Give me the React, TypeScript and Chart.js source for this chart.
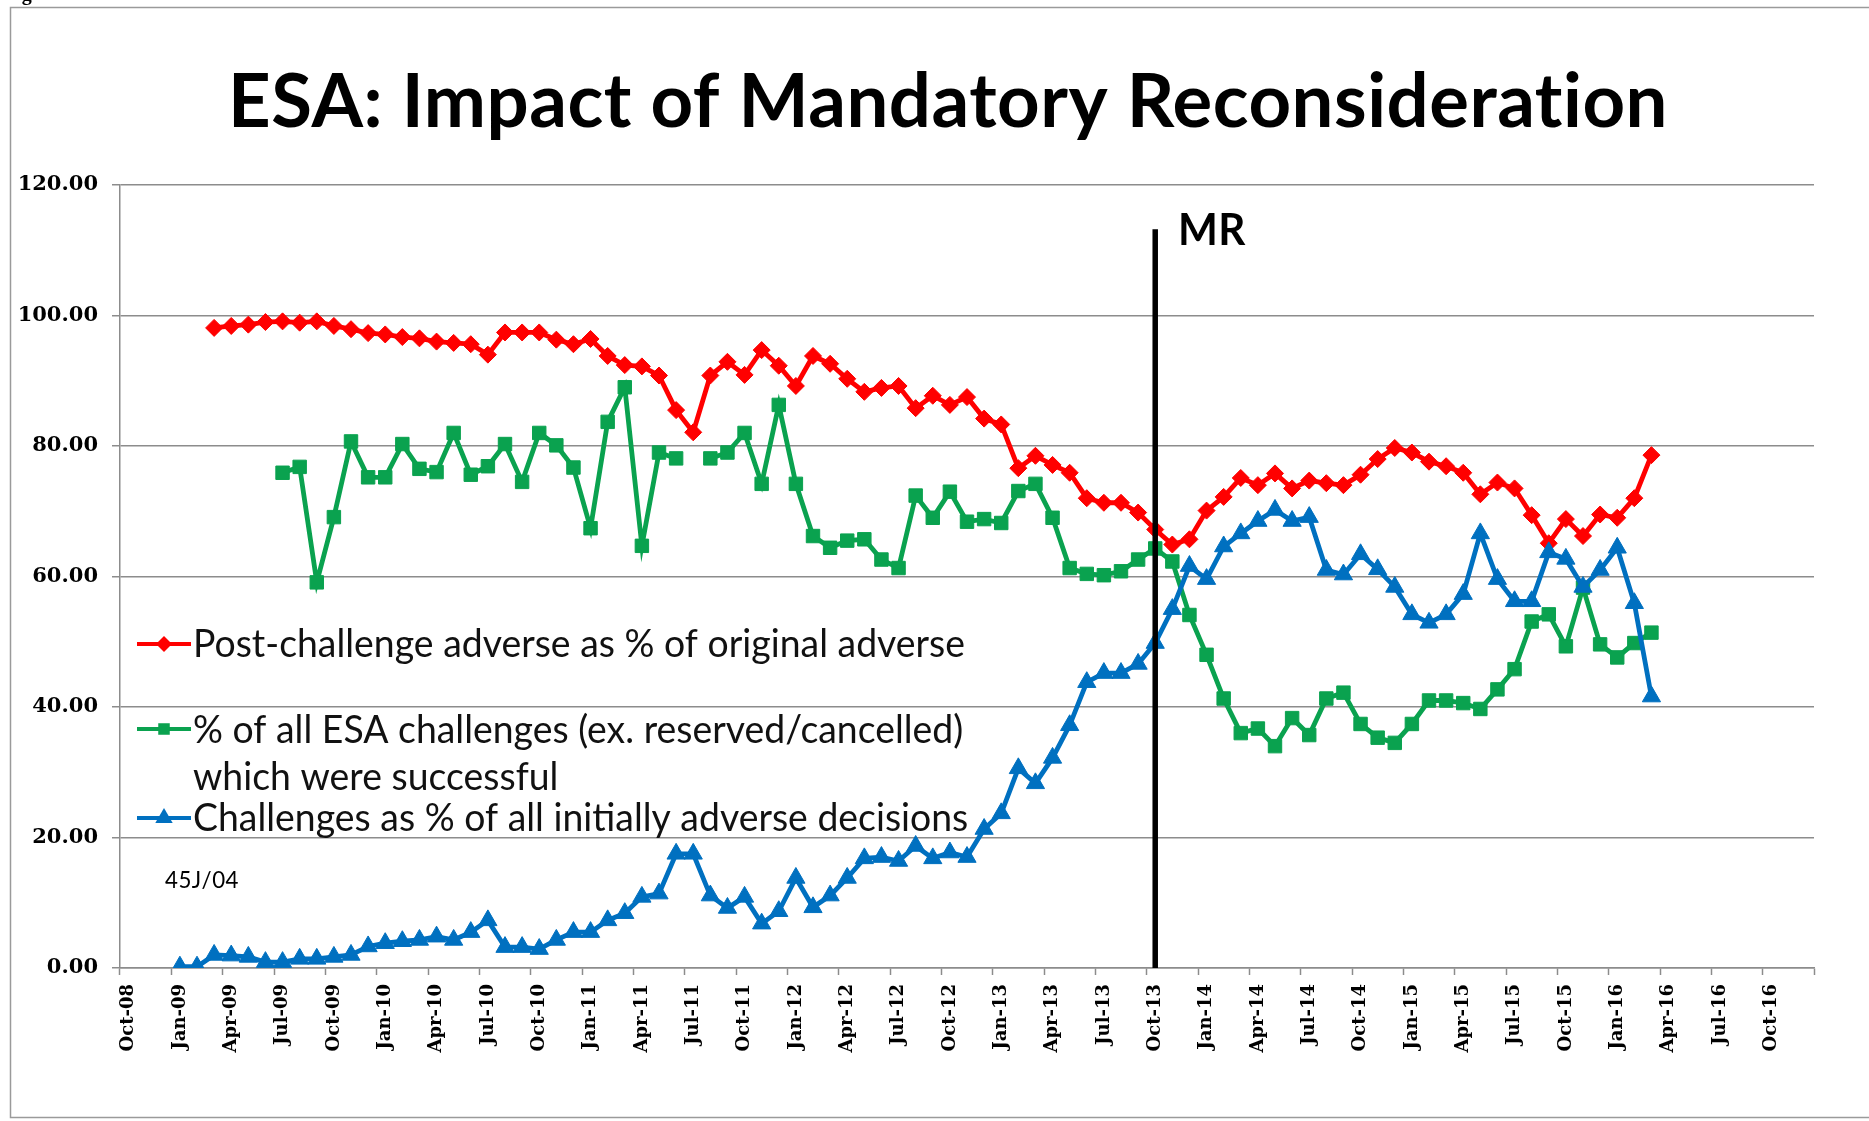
import React, { useEffect, useRef } from "react";
import { Chart, registerables } from "chart.js";

Chart.register(...registerables);

// ---- categories (monthly, Oct-08 .. Dec-16) ----
const MONTH_NAMES = ["Jan", "Feb", "Mar", "Apr", "May", "Jun", "Jul", "Aug", "Sep", "Oct", "Nov", "Dec"];
const FIRST_YEAR = 2008;
const FIRST_MONTH = 9; // Oct
const MONTH_COUNT = 99;
const CATEGORIES: string[] = [];
for (let i = 0; i < MONTH_COUNT; i++) {
  const m = (FIRST_MONTH + i) % 12;
  const y = FIRST_YEAR + Math.floor((FIRST_MONTH + i) / 12);
  CATEGORIES.push(MONTH_NAMES[m] + "-" + String(y % 100).padStart(2, "0"));
}

const Y_MIN = 0;
const Y_MAX = 120;
const Y_STEP = 20;

// ---- series ----
const SERIES_NAMES = [
  "Post-challenge adverse as % of original adverse",
  "% of all ESA challenges (ex. reserved/cancelled) which were successful",
  "Challenges as % of all initially adverse decisions",
];

// Post-challenge adverse (starts Mar-09)
const RED_START = 5;
const RED_VALUES = [
  98.1, 98.4, 98.6, 99.0, 99.1, 98.9, 99.1, 98.4, 97.9, 97.3, 97.1, 96.7,
  96.5, 96.0, 95.8, 95.6, 94.0, 97.4, 97.4, 97.4, 96.3, 95.6, 96.4, 93.8,
  92.4, 92.2, 90.8, 85.5, 82.1, 90.8, 92.9, 90.9, 94.7, 92.3, 89.2, 93.8,
  92.6, 90.3, 88.3, 88.9, 89.2, 85.8, 87.7, 86.3, 87.5, 84.2, 83.3, 76.6,
  78.5, 77.1, 75.9, 72.0, 71.3, 71.3, 69.8, 67.2, 64.9, 65.7, 70.1, 72.2,
  75.1, 74.0, 75.8, 73.5, 74.7, 74.3, 74.0, 75.6, 78.0, 79.7, 79.0, 77.6,
  76.9, 75.9, 72.6, 74.4, 73.5, 69.4, 65.1, 68.8, 66.2, 69.5, 69.0, 72.0,
  78.6,
];

// % successful (starts Jul-09)
const GREEN_START = 9;
const GREEN_VALUES: (number | null)[] = [
  75.9, 76.8, 59.1, 69.1, 80.7, 75.2, 75.2, 80.3, 76.5, 76.0, 82.0, 75.6,
  76.9, 80.3, 74.5, 82.0, 80.1, 76.7, 67.4, 83.7, 89.0, 64.7, 79.0, 78.1,
  null, 78.1, 79.0, 82.0, 74.2, 86.3, 74.2, 66.2, 64.4, 65.5, 65.7, 62.6,
  61.3, 72.4, 69.0, 73.0, 68.4, 68.8, 68.2, 73.1, 74.2, 69.0, 61.3, 60.4,
  60.2, 60.8, 62.6, 64.3, 62.3, 54.1, 48.0, 41.3, 36.0, 36.7, 34.0, 38.3,
  35.7, 41.3, 42.2, 37.4, 35.3, 34.5, 37.4, 41.0, 41.0, 40.6, 39.7, 42.7,
  45.8, 53.1, 54.2, 49.3, 58.3, 49.6, 47.6, 49.8, 51.4,
];

// Challenges as % (starts Jan-09)
const BLUE_START = 3;
const BLUE_VALUES = [
  0.2, 0.2, 2.0, 1.9, 1.7, 0.9, 0.9, 1.4, 1.4, 1.7, 2.0, 3.3,
  3.8, 4.1, 4.3, 4.8, 4.3, 5.5, 7.3, 3.2, 3.2, 2.9, 4.3, 5.5,
  5.5, 7.3, 8.4, 10.9, 11.4, 17.5, 17.5, 11.1, 9.2, 10.9, 6.8, 8.7,
  13.8, 9.3, 11.1, 13.8, 16.8, 17.0, 16.4, 18.7, 16.8, 17.7, 17.0, 21.3,
  23.7, 30.6, 28.3, 32.2, 37.2, 43.8, 45.2, 45.2, 46.6, 49.8, 55.0, 61.6,
  59.6, 64.6, 66.6, 68.5, 70.2, 68.5, 69.1, 61.0, 60.3, 63.4, 61.1, 58.4,
  54.2, 52.9, 54.2, 57.3, 66.6, 59.6, 56.2, 56.2, 63.7, 62.7, 58.4, 61.0,
  64.4, 55.9, 41.6,
];

const MR_INDEX = 60; // Oct-13
const MR_TOP = 113.2;

function pad(start: number, values: (number | null)[]): (number | null)[] {
  const out: (number | null)[] = [];
  for (let i = 0; i < MONTH_COUNT; i++) {
    const k = i - start;
    out.push(k >= 0 && k < values.length ? values[k] : null);
  }
  return out;
}

const RED = "#FF0000";
const GREEN = "#0AA24F";
const BLUE = "#0070C0";
const GRID = "#8c8c8c";
const SANS = "Lato, 'Open Sans', sans-serif";
const SERIF = "'DejaVu Serif', 'Liberation Serif', serif";

function fitText(ctx: CanvasRenderingContext2D, text: string, x: number, y: number, font: string, width: number) {
  ctx.save();
  ctx.font = font;
  (ctx as any).letterSpacing = "0.5px";
  const w = ctx.measureText(text).width || width;
  ctx.translate(x, y);
  ctx.scale(width / w, 1);
  ctx.textAlign = "left";
  ctx.textBaseline = "alphabetic";
  ctx.fillText(text, 0, 0);
  ctx.restore();
}

function marker(ctx: CanvasRenderingContext2D, kind: string, x: number, y: number, r: number, color: string) {
  ctx.save();
  ctx.fillStyle = color;
  ctx.beginPath();
  if (kind === "diamond") {
    ctx.moveTo(x - r, y);
    ctx.lineTo(x, y - r);
    ctx.lineTo(x + r, y);
    ctx.lineTo(x, y + r);
  } else if (kind === "square") {
    ctx.rect(x - r * 0.72, y - r * 0.72, r * 1.44, r * 1.44);
  } else {
    ctx.moveTo(x, y - r);
    ctx.lineTo(x + r * 0.87, y + r * 0.5);
    ctx.lineTo(x - r * 0.87, y + r * 0.5);
  }
  ctx.closePath();
  ctx.fill();
  ctx.restore();
}

const decorPlugin = {
  id: "decor",
  beforeDraw(chart: any) {
    const ctx = chart.ctx as CanvasRenderingContext2D;
    ctx.save();
    ctx.fillStyle = "#fff";
    ctx.fillRect(0, 0, chart.width, chart.height);
    ctx.restore();
  },
  afterDatasetsDraw(chart: any) {
    const ctx = chart.ctx as CanvasRenderingContext2D;
    const xs = chart.scales.x;
    const ys = chart.scales.y;
    const x = xs.getPixelForValue(MR_INDEX);
    ctx.save();
    ctx.strokeStyle = "#000";
    ctx.lineWidth = 5.5;
    ctx.beginPath();
    ctx.moveTo(x, ys.getPixelForValue(MR_TOP));
    ctx.lineTo(x, ys.getPixelForValue(0));
    ctx.stroke();
    ctx.restore();
  },
  afterDraw(chart: any) {
    const ctx = chart.ctx as CanvasRenderingContext2D;
    ctx.save();
    ctx.strokeStyle = "#9a9a9a";
    ctx.lineWidth = 1.5;
    ctx.strokeRect(10.5, 7.5, 1900, 1110);
    ctx.fillStyle = "#000";
    ctx.font = "bold 20px 'Liberation Serif', serif";
    ctx.textBaseline = "alphabetic";
    ctx.fillText("Figure", 4, 0);
    fitText(ctx, "ESA: Impact of Mandatory Reconsideration", 228, 127, "bold 74px " + SANS, 1440);
    fitText(ctx, "MR", 1178, 245, "bold 43px " + SANS, 68);
    const lx0 = 137;
    const lx1 = 191;
    const rows = [
      { y: 644, color: RED, kind: "diamond", r: 8 },
      { y: 729, color: GREEN, kind: "square", r: 8 },
      { y: 818, color: BLUE, kind: "triangle", r: 10 },
    ];
    rows.forEach((r) => {
      ctx.strokeStyle = r.color;
      ctx.lineWidth = 4;
      ctx.beginPath();
      ctx.moveTo(lx0, r.y);
      ctx.lineTo(lx1, r.y);
      ctx.stroke();
      marker(ctx, r.kind, (lx0 + lx1) / 2, r.y, r.r, r.color);
    });
    ctx.fillStyle = "#111";
    const lf = "38px " + SANS;
    ctx.font = lf;
    const mw = ctx.measureText(SERIES_NAMES[0]).width || 772;
    const sx = 772 / mw;
    const lines = [
      { t: SERIES_NAMES[0], y: 657 },
      { t: "% of all ESA challenges (ex. reserved/cancelled)", y: 743 },
      { t: "which were successful", y: 790 },
      { t: SERIES_NAMES[2], y: 831 },
    ];
    lines.forEach((l) => {
      ctx.save();
      ctx.font = lf;
      ctx.translate(193, l.y);
      ctx.scale(sx, 1);
      ctx.fillText(l.t, 0, 0);
      ctx.restore();
    });
    ctx.fillStyle = "#000";
    fitText(ctx, "45J/04", 165, 888, "23px " + SANS, 74);
    ctx.restore();
  },
};

export default function App() {
  const ref = useRef<HTMLCanvasElement | null>(null);
  useEffect(() => {
    document.body.style.margin = "0";
    if (!ref.current) return;
    const common = { borderWidth: 4.8, pointBorderWidth: 1, tension: 0, spanGaps: false, fill: false };
    const chart = new Chart(ref.current, {
      type: "line",
      data: {
        labels: CATEGORIES,
        datasets: [
          {
            ...common,
            label: SERIES_NAMES[0],
            data: pad(RED_START, RED_VALUES),
            borderColor: RED,
            backgroundColor: RED,
            pointBackgroundColor: RED,
            pointBorderColor: RED,
            pointStyle: "rectRot",
            pointRadius: 8.5,
            order: 2,
          },
          {
            ...common,
            label: SERIES_NAMES[1],
            data: pad(GREEN_START, GREEN_VALUES),
            borderColor: GREEN,
            backgroundColor: GREEN,
            pointBackgroundColor: GREEN,
            pointBorderColor: GREEN,
            pointStyle: "rect",
            pointRadius: 9.5,
            order: 1,
          },
          {
            ...common,
            label: SERIES_NAMES[2],
            data: pad(BLUE_START, BLUE_VALUES),
            borderColor: BLUE,
            backgroundColor: BLUE,
            pointBackgroundColor: BLUE,
            pointBorderColor: BLUE,
            pointStyle: "triangle",
            pointRadius: 10.5,
            order: 0,
          },
        ],
      },
      options: {
        responsive: false,
        animation: false,
        devicePixelRatio: 1,
        layout: { padding: { top: 185, right: 55, left: 0, bottom: 0 } },
        plugins: {
          legend: { display: false },
          title: { display: false },
          tooltip: { enabled: false },
        },
        scales: {
          x: {
            type: "category",
            offset: true,
            grid: {
              offset: true,
              drawOnChartArea: false,
              drawTicks: true,
              tickLength: 7,
              tickWidth: 1.5,
              tickColor: (c: any) =>
                c.index === undefined || c.index % 3 === 0 ? GRID : "rgba(0,0,0,0)",
            },
            border: { display: true, color: GRID, width: 1.5 },
            ticks: {
              autoSkip: false,
              minRotation: 90,
              maxRotation: 90,
              padding: 9,
              color: "#000",
              font: { family: SERIF, size: 18, weight: "bold" },
              callback: (_v: any, i: number) => (i % 3 === 0 ? CATEGORIES[i] : ""),
            },
            afterFit: (s: any) => {
              s.height = 153;
            },
          },
          y: {
            min: Y_MIN,
            max: Y_MAX,
            grid: { color: GRID, lineWidth: 1.5, tickLength: 8, tickColor: GRID },
            border: { display: true, color: GRID, width: 1.5 },
            ticks: {
              stepSize: Y_STEP,
              padding: 14,
              color: "#000",
              font: { family: SERIF, size: 21, weight: "bold" },
              callback: (v: any) => Number(v).toFixed(2),
            },
            afterFit: (s: any) => {
              s.width = 120;
            },
          },
        },
      },
      plugins: [decorPlugin],
    } as any);
    return () => chart.destroy();
  }, []);
  return (
    <div style={{ width: 1869, height: 1121, background: "#fff", overflow: "hidden" }}>
      <canvas ref={ref} width={1869} height={1121} style={{ width: 1869, height: 1121, display: "block" }} />
    </div>
  );
}
